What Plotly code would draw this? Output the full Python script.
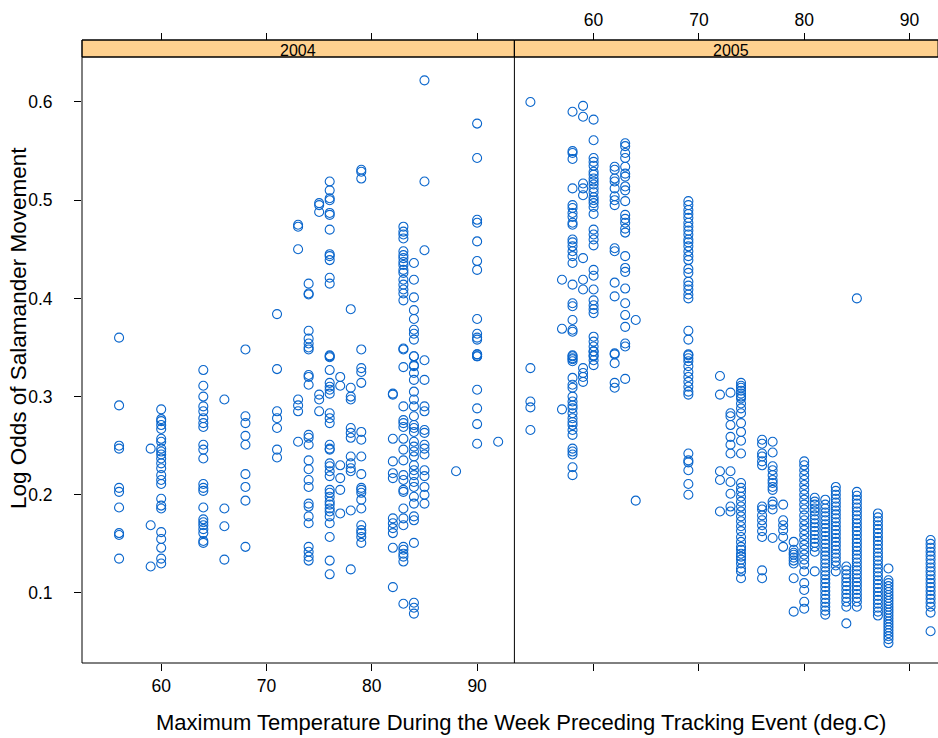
import plotly.graph_objects as go

# ---- data: log odds of salamander movement by max weekly temperature ----
years = ["2004", "2005"]
temps_ticks = [60, 70, 80, 90]
y_ticks = [0.1, 0.2, 0.3, 0.4, 0.5, 0.6]

odds_2004 = {
    56: [0.360, 0.291, 0.250, 0.247, 0.207, 0.203, 0.187, 0.161, 0.159, 0.135],
    59: [0.247, 0.169, 0.127],
    60: [0.287, 0.277, 0.275, 0.271, 0.267, 0.257, 0.254, 0.247, 0.244, 0.241, 0.237, 0.232,
         0.227, 0.220, 0.215, 0.211, 0.196, 0.189, 0.186, 0.162, 0.155, 0.146, 0.135, 0.130],
    64: [0.327, 0.311, 0.300, 0.290, 0.285, 0.278, 0.273, 0.269, 0.251, 0.246, 0.237, 0.211,
         0.207, 0.204, 0.187, 0.175, 0.172, 0.169, 0.165, 0.161, 0.153, 0.151],
    66: [0.297, 0.186, 0.168, 0.134],
    68: [0.348, 0.280, 0.273, 0.260, 0.251, 0.221, 0.208, 0.194, 0.147],
    71: [0.384, 0.328, 0.285, 0.278, 0.268, 0.246, 0.238],
    73: [0.475, 0.473, 0.450, 0.297, 0.291, 0.285, 0.254],
    74: [0.415, 0.405, 0.404, 0.367, 0.359, 0.354, 0.350, 0.348, 0.322, 0.320, 0.312, 0.261,
         0.258, 0.251, 0.235, 0.226, 0.215, 0.208, 0.191, 0.188, 0.178, 0.171, 0.147, 0.142,
         0.137, 0.133],
    75: [0.497, 0.495, 0.488, 0.302, 0.297, 0.285],
    76: [0.519, 0.510, 0.502, 0.500, 0.487, 0.485, 0.470, 0.445, 0.443, 0.439, 0.421, 0.415,
         0.342, 0.341, 0.340, 0.327, 0.314, 0.310, 0.307, 0.303, 0.283, 0.278, 0.273, 0.251,
         0.247, 0.246, 0.232, 0.229, 0.224, 0.219, 0.205, 0.202, 0.198, 0.193, 0.190, 0.186,
         0.183, 0.178, 0.171, 0.157, 0.133, 0.119],
    77: [0.320, 0.311, 0.230, 0.217, 0.205, 0.181],
    78: [0.389, 0.309, 0.300, 0.297, 0.268, 0.263, 0.258, 0.239, 0.232, 0.227, 0.224, 0.184, 0.124],
    79: [0.531, 0.529, 0.522, 0.348, 0.329, 0.325, 0.314, 0.264, 0.256, 0.239, 0.221, 0.207,
         0.205, 0.202, 0.195, 0.186, 0.169, 0.164, 0.161, 0.157, 0.151],
    82: [0.303, 0.302, 0.257, 0.234, 0.222, 0.217, 0.176, 0.171, 0.166, 0.161, 0.146, 0.106],
    83: [0.473, 0.468, 0.465, 0.461, 0.448, 0.444, 0.441, 0.437, 0.434, 0.429, 0.426, 0.419,
         0.414, 0.409, 0.405, 0.398, 0.349, 0.348, 0.330, 0.290, 0.276, 0.273, 0.269, 0.257,
         0.246, 0.235, 0.220, 0.215, 0.205, 0.203, 0.186, 0.176, 0.169, 0.147, 0.144, 0.140,
         0.137, 0.132, 0.089],
    84: [0.436, 0.419, 0.401, 0.388, 0.379, 0.368, 0.364, 0.358, 0.341, 0.341, 0.332, 0.331,
         0.324, 0.317, 0.305, 0.297, 0.290, 0.280, 0.271, 0.268, 0.264, 0.254, 0.249, 0.244,
         0.239, 0.230, 0.225, 0.220, 0.213, 0.208, 0.198, 0.191, 0.178, 0.174, 0.151, 0.090,
         0.085, 0.079],
    85: [0.622, 0.519, 0.449, 0.337, 0.317, 0.290, 0.285, 0.266, 0.263, 0.251, 0.247, 0.241,
         0.225, 0.219, 0.208, 0.200, 0.191],
    88: [0.224],
    90: [0.578, 0.543, 0.480, 0.477, 0.458, 0.438, 0.429, 0.379, 0.364, 0.360, 0.358, 0.343,
         0.341, 0.343, 0.341, 0.307, 0.288, 0.272, 0.252],
    92: [0.254],
}

odds_2005 = {
    54: [0.600, 0.329, 0.295, 0.289, 0.266],
    57: [0.419, 0.369, 0.287],
    58: [0.590, 0.550, 0.548, 0.542, 0.512, 0.495, 0.492, 0.487, 0.483, 0.477, 0.475, 0.460,
         0.457, 0.453, 0.448, 0.443, 0.436, 0.414, 0.395, 0.392, 0.378, 0.368, 0.366, 0.342,
         0.341, 0.338, 0.339, 0.336, 0.319, 0.312, 0.309, 0.300, 0.295, 0.291, 0.288, 0.283,
         0.278, 0.274, 0.271, 0.266, 0.261, 0.247, 0.244, 0.241, 0.228, 0.220],
    59: [0.596, 0.585, 0.517, 0.512, 0.505, 0.441, 0.419, 0.409, 0.329, 0.324, 0.320, 0.315],
    60: [0.582, 0.561, 0.543, 0.539, 0.535, 0.529, 0.526, 0.522, 0.519, 0.516, 0.512, 0.508,
         0.503, 0.500, 0.497, 0.493, 0.486, 0.470, 0.465, 0.460, 0.454, 0.429, 0.423, 0.409,
         0.398, 0.393, 0.389, 0.385, 0.361, 0.356, 0.351, 0.346, 0.341, 0.346, 0.342, 0.337,
         0.332],
    62: [0.534, 0.531, 0.522, 0.519, 0.512, 0.504, 0.500, 0.495, 0.451, 0.448, 0.416, 0.402,
         0.344, 0.343, 0.334, 0.314, 0.309],
    63: [0.558, 0.555, 0.548, 0.543, 0.534, 0.527, 0.524, 0.514, 0.510, 0.499, 0.485, 0.481,
         0.477, 0.471, 0.467, 0.443, 0.431, 0.427, 0.410, 0.395, 0.383, 0.371, 0.354, 0.351,
         0.318],
    64: [0.378, 0.194],
    69: [0.499, 0.495, 0.490, 0.486, 0.482, 0.477, 0.473, 0.469, 0.465, 0.460, 0.457, 0.453,
         0.448, 0.443, 0.439, 0.430, 0.426, 0.417, 0.413, 0.409, 0.404, 0.400, 0.367, 0.358,
         0.343, 0.339, 0.342, 0.336, 0.331, 0.325, 0.320, 0.315, 0.310, 0.305, 0.302, 0.242,
         0.235, 0.233, 0.225, 0.211, 0.200],
    72: [0.321, 0.302, 0.224, 0.215, 0.183],
    73: [0.304, 0.283, 0.280, 0.271, 0.259, 0.251, 0.242, 0.224, 0.213, 0.201, 0.188, 0.183],
    74: [0.314, 0.311, 0.309, 0.306, 0.303, 0.300, 0.298, 0.293, 0.288, 0.283, 0.273, 0.264,
         0.255, 0.242, 0.212, 0.207, 0.203, 0.198, 0.193, 0.188, 0.183, 0.178, 0.173, 0.168,
         0.163, 0.157, 0.152, 0.147, 0.144, 0.140, 0.137, 0.134, 0.130, 0.125, 0.122, 0.115],
    76: [0.256, 0.252, 0.242, 0.239, 0.234, 0.230, 0.188, 0.185, 0.179, 0.174, 0.169, 0.163,
         0.157, 0.123, 0.115],
    77: [0.254, 0.243, 0.229, 0.225, 0.220, 0.215, 0.212, 0.208, 0.205, 0.193, 0.190, 0.185,
         0.156],
    78: [0.190, 0.174, 0.169, 0.164, 0.157, 0.147],
    79: [0.152, 0.144, 0.141, 0.139, 0.136, 0.133, 0.130, 0.115, 0.081],
    80: [0.234, 0.230, 0.225, 0.220, 0.215, 0.210, 0.205, 0.200, 0.195, 0.190, 0.185, 0.179,
         0.174, 0.169, 0.164, 0.159, 0.154, 0.149, 0.144, 0.139, 0.134, 0.129, 0.122, 0.110,
         0.103, 0.091, 0.084],
    81: [0.197, 0.193, 0.190, 0.186, 0.183, 0.179, 0.175, 0.171, 0.167, 0.163, 0.159, 0.155,
         0.151, 0.147, 0.142, 0.122],
    82: [0.195, 0.190, 0.186, 0.182, 0.178, 0.174, 0.170, 0.166, 0.162, 0.158, 0.154, 0.150,
         0.146, 0.142, 0.138, 0.134, 0.130, 0.126, 0.122, 0.118, 0.114, 0.110, 0.106, 0.102,
         0.098, 0.094, 0.090, 0.086, 0.082, 0.078],
    83: [0.208, 0.204, 0.200, 0.196, 0.192, 0.188, 0.184, 0.180, 0.176, 0.172, 0.168, 0.164,
         0.160, 0.156, 0.152, 0.148, 0.144, 0.140, 0.136, 0.132, 0.128, 0.122],
    84: [0.127, 0.123, 0.119, 0.115, 0.111, 0.107, 0.103, 0.099, 0.095, 0.091, 0.086, 0.069],
    85: [0.400, 0.203, 0.199, 0.195, 0.191, 0.187, 0.183, 0.179, 0.175, 0.171, 0.167, 0.163,
         0.159, 0.155, 0.151, 0.147, 0.143, 0.139, 0.135, 0.131, 0.127, 0.123, 0.119, 0.115,
         0.111, 0.107, 0.103, 0.099, 0.095, 0.091, 0.086],
    87: [0.181, 0.177, 0.173, 0.169, 0.165, 0.161, 0.157, 0.153, 0.149, 0.145, 0.141, 0.137,
         0.133, 0.129, 0.125, 0.121, 0.117, 0.113, 0.109, 0.105, 0.101, 0.097, 0.093, 0.089,
         0.085, 0.081, 0.077],
    88: [0.125, 0.113, 0.110, 0.107, 0.104, 0.101, 0.098, 0.095, 0.092, 0.089, 0.086, 0.083,
         0.080, 0.077, 0.074, 0.071, 0.068, 0.065, 0.062, 0.059, 0.056, 0.053, 0.049],
    92: [0.154, 0.150, 0.146, 0.142, 0.138, 0.134, 0.130, 0.126, 0.122, 0.118, 0.114, 0.110,
         0.106, 0.102, 0.098, 0.094, 0.090, 0.086, 0.080, 0.061],
}


def flatten(d):
    xs, ys = [], []
    for t, vals in d.items():
        for v in vals:
            xs.append(t)
            ys.append(v)
    return xs, ys


x04, y04 = flatten(odds_2004)
x05, y05 = flatten(odds_2005)

# ---- layout geometry ----
W, H = 938, 738
ML, MR, MT, MB = 82, 0, 40, 75
PW = W - ML - MR
PH = H - MT - MB
strip_h = 17
ydom_top = (PH - strip_h) / PH
panel_w = 432.4
d1 = panel_w / PW
XMIN = 52.48
px_per_deg = panel_w / 41.06
XMAX1 = XMIN + panel_w / px_per_deg
XMAX2 = XMIN + (PW - panel_w) / px_per_deg
YR = [0.0287, 0.6458]

COL = "#0a66cc"
FONT = "Liberation Sans, Arial, sans-serif"
TICKSIZE = 17.5
marker = dict(symbol="circle-open", size=9, color=COL, line=dict(width=1.1, color=COL))

fig = go.Figure()
fig.add_trace(go.Scatter(x=x04, y=y04, mode="markers", marker=marker, xaxis="x", yaxis="y",
                         showlegend=False, cliponaxis=True))
fig.add_trace(go.Scatter(x=x05, y=y05, mode="markers", marker=marker, xaxis="x2", yaxis="y",
                         showlegend=False, cliponaxis=True))
# empty traces so top axes get drawn
fig.add_trace(go.Scatter(x=[], y=[], xaxis="x3", yaxis="y", showlegend=False))
fig.add_trace(go.Scatter(x=[], y=[], xaxis="x4", yaxis="y", showlegend=False))

axcommon = dict(showgrid=False, zeroline=False, showline=False, ticks="outside", ticklen=7,
                tickwidth=1, tickcolor="black", tickvals=temps_ticks,
                tickfont=dict(family=FONT, size=TICKSIZE, color="black"))

fig.update_layout(
    width=W, height=H,
    margin=dict(l=ML, r=MR, t=MT, b=MB),
    paper_bgcolor="white", plot_bgcolor="white",
    xaxis=dict(domain=[0, d1], range=[XMIN, XMAX1], anchor="y", **axcommon),
    xaxis2=dict(domain=[d1, 1], range=[XMIN, XMAX2], anchor="y", showticklabels=False, **axcommon),
    xaxis3=dict(overlaying="x", side="top", anchor="free", position=1, range=[XMIN, XMAX1],
                showticklabels=False, **axcommon),
    xaxis4=dict(overlaying="x2", side="top", anchor="free", position=1, range=[XMIN, XMAX2],
                **axcommon),
    yaxis=dict(domain=[0, ydom_top], range=YR, showgrid=False, zeroline=False, showline=False,
               ticks="outside", ticklen=7, tickcolor="black", tickvals=y_ticks,
               ticktext=[f"{v:.1f}" for v in y_ticks], ticklabelstandoff=18,
               tickfont=dict(family=FONT, size=TICKSIZE, color="black")),
)

shapes = []
line = dict(color="black", width=1)
# panel borders
shapes.append(dict(type="line", xref="paper", yref="paper", x0=0, x1=0, y0=0, y1=ydom_top, line=line))
shapes.append(dict(type="line", xref="paper", yref="paper", x0=d1, x1=d1, y0=0, y1=ydom_top, line=line))
shapes.append(dict(type="line", xref="paper", yref="paper", x0=0, x1=1, y0=0, y1=0, line=line))
shapes.append(dict(type="line", xref="paper", yref="paper", x0=0, x1=1, y0=ydom_top, y1=ydom_top, line=line))
# strips
for x0, x1 in [(0, d1), (d1, 1)]:
    shapes.append(dict(type="rect", xref="paper", yref="paper", x0=x0, x1=x1, y0=ydom_top, y1=1,
                       fillcolor="#ffd18f", line=dict(color="black", width=1), layer="below"))
shapes.append(dict(type="line", xref="paper", yref="paper", x0=d1, x1=d1, y0=ydom_top, y1=1, line=line))
shapes.append(dict(type="line", xref="paper", yref="paper", x0=0, x1=1, y0=1, y1=1, line=line))
shapes.append(dict(type="line", xref="paper", yref="paper", x0=0, x1=0, y0=ydom_top, y1=1, line=line))
fig.update_layout(shapes=shapes)

strip_mid = (ydom_top + 1) / 2
ann = []
centers = [(panel_w / 2) / PW, (panel_w + panel_w / 2) / PW]
for yr, cx in zip(years, centers):
    ann.append(dict(text=yr, xref="paper", yref="paper", x=cx, y=strip_mid, yshift=-2,
                    showarrow=False, xanchor="center", yanchor="middle",
                    font=dict(family=FONT, size=16, color="black")))
ann.append(dict(text="Maximum Temperature During the Week Preceding Tracking Event (deg.C)",
                xref="paper", yref="paper", x=(521 - ML) / PW, y=-(722 - (H - MB)) / PH,
                showarrow=False, xanchor="center", yanchor="middle",
                font=dict(family=FONT, size=22, color="black")))
ann.append(dict(text="Log Odds of Salamander Movement", xref="paper", yref="paper",
                x=-(ML - 18) / PW, y=(H - MB - 328) / PH, textangle=-90, showarrow=False,
                xanchor="center", yanchor="middle",
                font=dict(family=FONT, size=22.5, color="black")))
fig.update_layout(annotations=ann)

fig.write_html("out.html")
